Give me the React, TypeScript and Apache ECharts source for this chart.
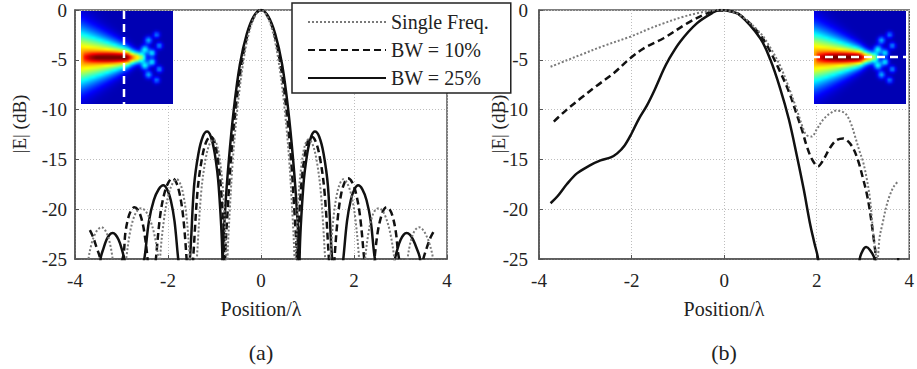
import React, { useEffect, useRef } from "react";
import * as echarts from "echarts";

// ---------- data ----------
const seriesNames = ["Single Freq.", "BW = 10%", "BW = 25%"];
const panelLabels = ["(a)", "(b)"];
const xTitle = "Position/λ";
const yTitle = "|E| (dB)";
const xMin = -4, xMax = 4, xStep = 2;
const yMin = -25, yMax = 0, yStep = 5;

// panel (a): [position, dB]
const singleA: number[][] = [
  [-3.74, -27],
  [-3.71, -25], [-3.64, -23.4], [-3.57, -22.5], [-3.5, -22.0], [-3.43, -21.8], [-3.37, -22.0], [-3.31, -22.5], [-3.25, -23.4], [-3.19, -25],
  [-3.05, -30],
  [-2.9, -25], [-2.82, -22.4], [-2.74, -20.9], [-2.66, -20.15], [-2.58, -19.9], [-2.49, -20.15], [-2.4, -20.9], [-2.3, -22.4], [-2.21, -25],
  [-2.19, -30],
  [-2.17, -25], [-2.08, -20.8], [-1.99, -18.55], [-1.9, -17.4], [-1.81, -17.0], [-1.74, -17.4], [-1.67, -18.55], [-1.6, -20.8], [-1.53, -25],
  [-1.46, -30],
  [-1.38, -25], [-1.29, -18.5], [-1.2, -15.2], [-1.11, -13.5], [-1.02, -13.0], [-0.95, -13.5], [-0.88, -15.2], [-0.81, -18.5], [-0.745, -25],
  [-0.73, -30],
  [-0.72, -25], [-0.67, -20], [-0.605, -15], [-0.51, -10], [-0.39, -5.5], [-0.265, -2.4], [-0.13, -0.6], [0, 0],
  [0.13, -0.6], [0.265, -2.4], [0.39, -5.5], [0.51, -10], [0.605, -15], [0.67, -20], [0.72, -25],
  [0.73, -30],
  [0.745, -25], [0.81, -18.5], [0.88, -15.2], [0.95, -13.5], [1.02, -13.0], [1.11, -13.5], [1.2, -15.2], [1.29, -18.5], [1.38, -25],
  [1.44, -30],
  [1.49, -25], [1.56, -20.8], [1.63, -18.55], [1.7, -17.4], [1.77, -17.0], [1.855, -17.4], [1.94, -18.55], [2.025, -20.8], [2.11, -25],
  [2.17, -30],
  [2.24, -25], [2.31, -22.4], [2.38, -20.9], [2.45, -20.15], [2.53, -19.9], [2.61, -20.15], [2.69, -20.9], [2.78, -22.4], [2.87, -25],
  [3.0, -30],
  [3.15, -25], [3.21, -23.4], [3.27, -22.5], [3.33, -22.0], [3.4, -21.8], [3.47, -22.0], [3.54, -22.5], [3.62, -23.4], [3.7, -25],
  [3.72, -27],
];

const bw10A: number[][] = [
  [-3.68, -22.1], [-3.61, -22.8], [-3.54, -23.8], [-3.46, -25], [-3.4, -30],
  [-2.98, -25], [-2.915, -22.3], [-2.85, -20.8], [-2.785, -20.05], [-2.72, -19.8], [-2.65, -20.05], [-2.58, -20.8], [-2.51, -22.3], [-2.44, -25],
  [-2.36, -30],
  [-2.26, -25], [-2.17, -20.7], [-2.08, -18.45], [-1.99, -17.3], [-1.9, -16.9], [-1.825, -17.3], [-1.75, -18.45], [-1.675, -20.7], [-1.6, -25],
  [-1.54, -30],
  [-1.46, -25], [-1.365, -18.2], [-1.27, -14.9], [-1.175, -13.2], [-1.08, -12.7], [-1.005, -13.2], [-0.93, -14.9], [-0.855, -18.2], [-0.78, -25],
  [-0.775, -30],
  [-0.77, -25], [-0.715, -20], [-0.645, -15], [-0.545, -10], [-0.42, -5.5], [-0.285, -2.4], [-0.14, -0.6], [0, 0],
  [0.14, -0.6], [0.285, -2.4], [0.42, -5.5], [0.545, -10], [0.645, -15], [0.715, -20], [0.77, -25],
  [0.775, -30],
  [0.78, -25], [0.855, -18.2], [0.93, -14.9], [1.005, -13.2], [1.08, -12.7], [1.175, -13.2], [1.27, -14.9], [1.365, -18.2], [1.46, -25],
  [1.52, -30],
  [1.58, -25], [1.655, -20.7], [1.725, -18.45], [1.8, -17.3], [1.87, -16.9], [1.96, -17.3], [2.045, -18.45], [2.13, -20.7], [2.22, -25],
  [2.33, -30],
  [2.44, -25], [2.51, -22.3], [2.58, -20.8], [2.64, -20.05], [2.7, -19.8], [2.77, -20.05], [2.835, -20.8], [2.9, -22.3], [2.97, -25],
  [3.23, -30],
  [3.49, -25], [3.57, -23.8], [3.65, -22.8], [3.73, -22.1],
];

const bw25A: number[][] = [
  [-3.47, -28],
  [-3.45, -25], [-3.385, -23.9], [-3.32, -23.05], [-3.255, -22.55], [-3.19, -22.4], [-3.13, -22.55], [-3.065, -23.05], [-3.0, -23.9], [-2.94, -25],
  [-2.72, -30],
  [-2.51, -25], [-2.41, -21.2], [-2.305, -19.1], [-2.2, -18.0], [-2.1, -17.6], [-2.02, -18.0], [-1.94, -19.1], [-1.86, -21.2], [-1.78, -25],
  [-1.65, -30],
  [-1.53, -25], [-1.44, -17.7], [-1.345, -14.4], [-1.25, -12.7], [-1.16, -12.2], [-1.08, -12.7], [-0.995, -14.4], [-0.91, -17.7], [-0.83, -25],
  [-0.825, -30],
  [-0.82, -25], [-0.77, -20], [-0.69, -15], [-0.585, -10], [-0.455, -5.5], [-0.305, -2.4], [-0.15, -0.6], [0, 0],
  [0.15, -0.6], [0.305, -2.4], [0.455, -5.5], [0.585, -10], [0.69, -15], [0.77, -20], [0.82, -25],
  [0.825, -30],
  [0.83, -25], [0.91, -17.7], [0.995, -14.4], [1.08, -12.7], [1.16, -12.2], [1.25, -12.7], [1.345, -14.4], [1.44, -17.7], [1.53, -25],
  [1.65, -30],
  [1.77, -25], [1.85, -21.2], [1.93, -19.1], [2.01, -18.0], [2.09, -17.6], [2.18, -18.0], [2.27, -19.1], [2.36, -21.2], [2.45, -25],
  [2.66, -30],
  [2.88, -25], [2.94, -23.9], [3.005, -23.05], [3.07, -22.55], [3.13, -22.4], [3.2, -22.55], [3.27, -23.05], [3.345, -23.9], [3.42, -25],
  [3.44, -28],
];

// panel (b)
const singleB: number[][] = [
  [-3.75, -5.7], [-3.4, -5.05], [-3.1, -4.5], [-2.6, -3.6], [-2.03, -2.68], [-1.6, -1.85], [-1.31, -1.34],
  [-0.9, -0.7], [-0.59, -0.33], [-0.3, -0.08], [-0.1, 0], [0.1, -0.1], [0.34, -0.5], [0.78, -2.3], [1.0, -3.8],
  [1.21, -5.6], [1.4, -7.8], [1.57, -10.0], [1.7, -11.8], [1.78, -12.55], [1.89, -12.7], [2.0, -12.0], [2.14, -11.0],
  [2.3, -10.35], [2.43, -10.1], [2.55, -10.2], [2.64, -10.5], [2.74, -11.4], [2.82, -12.55], [2.92, -14.1], [3.0, -15.2],
  [3.08, -16.9], [3.15, -18.9], [3.22, -22.3], [3.28, -24.6], [3.31, -25.0], [3.36, -22.8], [3.43, -21.3], [3.5, -19.8],
  [3.58, -18.6], [3.67, -17.7], [3.76, -17.2],
];

const bw10B: number[][] = [
  [-3.68, -11.2], [-3.4, -10.0], [-3.1, -8.87], [-2.75, -7.6], [-2.39, -6.36], [-2.03, -4.85], [-1.7, -3.75],
  [-1.31, -2.84], [-0.8, -1.34], [-0.37, -0.33], [-0.16, -0.05], [0, -0.05], [0.34, -0.5], [0.78, -2.5], [1.0, -4.2],
  [1.21, -6.2], [1.4, -8.2], [1.57, -10.5], [1.7, -12.3], [1.78, -13.6], [1.9, -15.0], [2.03, -15.7], [2.15, -15.0],
  [2.28, -13.9], [2.42, -13.1], [2.57, -12.9], [2.68, -13.2], [2.79, -13.9], [2.9, -15.2], [3.0, -16.9], [3.08, -18.4],
  [3.15, -20.2], [3.25, -23.6], [3.28, -25], [3.3, -28],
];

const bw25B: number[][] = [
  [-3.75, -19.4], [-3.6, -18.7], [-3.4, -17.5], [-3.18, -16.4], [-2.9, -15.6], [-2.67, -15.1], [-2.45, -14.8],
  [-2.31, -14.4], [-2.15, -13.6], [-2.0, -12.4], [-1.85, -11.0], [-1.67, -9.6], [-1.5, -8.0], [-1.31, -6.0],
  [-1.2, -5.0], [-0.95, -3.18], [-0.59, -1.34], [-0.23, -0.23], [-0.09, 0], [0.1, -0.1], [0.34, -0.5], [0.78, -2.84],
  [1.0, -5.0], [1.21, -7.86], [1.4, -11.0], [1.57, -14.6], [1.72, -18.0], [1.85, -21.3], [1.95, -23.4], [2.03, -25],
  [2.06, -28],
  [2.88, -28], [2.93, -25], [3.0, -24.1], [3.07, -23.8], [3.15, -24.1], [3.25, -25], [3.28, -28],
  [3.72, -27], [3.76, -24.9],
];

// ---------- inset picture (decoration) ----------
function jet(t: number): [number, number, number] {
  const c = (v: number) => Math.max(0, Math.min(1, v));
  return [c(1.5 - Math.abs(4 * t - 3)), c(1.5 - Math.abs(4 * t - 2)), c(1.5 - Math.abs(4 * t - 1))];
}
function makeInset(): string {
  const N = 40;
  const cv = document.createElement("canvas");
  cv.width = N;
  cv.height = N;
  const ctx = cv.getContext("2d");
  if (!ctx) return "";
  const img = ctx.createImageData(N, N);
  const blobs = [
    [0.66, 0.5, 0.3, 0.06], [0.7, 0.41, 0.3, 0.045], [0.7, 0.59, 0.3, 0.045],
    [0.78, 0.45, 0.3, 0.04], [0.78, 0.55, 0.3, 0.04], [0.74, 0.31, 0.25, 0.04],
    [0.74, 0.69, 0.25, 0.04], [0.83, 0.25, 0.2, 0.035], [0.83, 0.75, 0.2, 0.035],
    [0.86, 0.37, 0.22, 0.035], [0.86, 0.63, 0.22, 0.035],
  ];
  for (let j = 0; j < N; j++) {
    for (let i = 0; i < N; i++) {
      const u = i / (N - 1), v = j / (N - 1);
      let t = 0.05;
      const w = Math.max(0.03, 0.3 * (1 - u / 0.8));
      const A = 0.68 * (u < 0.5 ? 1 : Math.max(0, 1 - (u - 0.5) / 0.22));
      t += A * Math.exp(-Math.pow((v - 0.5) / w, 2));
      if (u < 0.64) {
        const env = Math.sqrt(Math.max(0, Math.sin((Math.PI * u) / 0.64)));
        t += 0.34 * env * Math.exp(-Math.pow((v - 0.5) / 0.055, 2));
      }
      for (const b of blobs) {
        const d2 = (Math.pow(u - b[0], 2) + Math.pow(v - b[1], 2)) / (b[3] * b[3]);
        t += b[2] * Math.exp(-d2);
      }
      t = Math.min(1, t);
      const [r, g, bb] = jet(t);
      const k = (j * N + i) * 4;
      img.data[k] = Math.round(r * 255);
      img.data[k + 1] = Math.round(g * 255);
      img.data[k + 2] = Math.round(bb * 255);
      img.data[k + 3] = 255;
    }
  }
  ctx.putImageData(img, 0, 0);
  const big = document.createElement("canvas");
  big.width = 92;
  big.height = 93;
  const bctx = big.getContext("2d");
  if (!bctx) return cv.toDataURL();
  bctx.imageSmoothingEnabled = true;
  bctx.imageSmoothingQuality = "high";
  bctx.drawImage(cv, 0, 0, 92, 93);
  return big.toDataURL();
}

const FONT = "Liberation Serif, Times New Roman, serif";

export default function App() {
  const ref = useRef<HTMLDivElement>(null);
  useEffect(() => {
    if (!ref.current) return;
    const chart = echarts.init(ref.current, null, { renderer: "svg" });
    const inset = makeInset();

    const grids = [
      { left: 75, top: 10, width: 372, height: 249 },
      { left: 539, top: 10, width: 371, height: 249 },
    ];
    const labelRich = { s: { fontFamily: FONT, fontSize: 19, color: "#222" } };
    const xAxis = [0, 1].map((g) => ({
      type: "value" as const,
      gridIndex: g,
      min: xMin,
      max: xMax,
      interval: xStep,
      axisLine: { show: true, onZero: false, lineStyle: { color: "#555", width: 1.5 } },
      axisTick: { show: true, inside: true, length: 4, lineStyle: { color: "#555" } },
      axisLabel: {
        color: "#222",
        fontFamily: FONT,
        fontSize: 19,
        margin: 12,
        formatter: (v: number) => `{s|${v}}`,
        rich: labelRich,
      },
      splitLine: { show: true, lineStyle: { color: "#bdbdbd", type: [1, 2], width: 1 } },
    }));
    const yAxis = [0, 1].map((g) => ({
      type: "value" as const,
      gridIndex: g,
      min: yMin,
      max: yMax,
      interval: yStep,
      axisLine: { show: true, onZero: false, lineStyle: { color: "#555", width: 1.5 } },
      axisTick: { show: true, inside: true, length: 4, lineStyle: { color: "#555" } },
      axisLabel: {
        color: "#222",
        fontFamily: FONT,
        fontSize: 19,
        margin: g === 0 ? 8 : 11,
        formatter: (v: number) => `{s|${v}}`,
        rich: labelRich,
      },
      splitLine: { show: true, lineStyle: { color: "#bdbdbd", type: [1, 2], width: 1 } },
    }));

    const styles = [
      { color: "#7a7a7a", width: 2, type: [2, 2] as number[] },
      { color: "#111", width: 2.5, type: [7, 4] as number[] },
      { color: "#111", width: 2.5, type: "solid" },
    ];
    const dataSets = [
      [singleA, bw10A, bw25A],
      [singleB, bw10B, bw25B],
    ];
    const series: any[] = [];
    dataSets.forEach((set, g) => {
      set.forEach((d, k) => {
        series.push({
          name: seriesNames[k],
          type: "line",
          xAxisIndex: g,
          yAxisIndex: g,
          data: d,
          showSymbol: false,
          symbol: "none",
          smooth: 0.35,
          clip: true,
          color: styles[k].color,
          lineStyle: { color: styles[k].color, width: styles[k].width, type: styles[k].type },
          z: 5 - k,
        });
      });
    });

    const insetEl = (x: number) => ({
      type: "image",
      x,
      y: 11,
      z: 10,
      style: { image: inset, width: 92, height: 93 },
    });
    const txt = (x: number, y: number, text: string, size: number, rot = 0) => ({
      type: "text",
      x,
      y,
      rotation: rot,
      z: 12,
      style: {
        text,
        fontFamily: FONT,
        fontSize: size,
        fill: "#222",
        textAlign: "center",
        textVerticalAlign: "middle",
        align: "center",
        verticalAlign: "middle",
      },
    });

    chart.setOption({
      animation: false,
      backgroundColor: "#fff",
      textStyle: { fontFamily: FONT },
      grid: grids.map((g) => ({ ...g, show: true, borderColor: "#555", borderWidth: 1.5, backgroundColor: "transparent" })),
      xAxis,
      yAxis,
      legend: {
        left: 292,
        top: 3,
        orient: "vertical",
        data: seriesNames,
        itemWidth: 78,
        itemHeight: 12,
        itemGap: 8,
        padding: [9, 22, 5, 15],
        borderColor: "#222",
        borderWidth: 1.5,
        borderRadius: 0,
        backgroundColor: "#fff",
        itemStyle: { opacity: 0 },
        textStyle: { fontFamily: FONT, fontSize: 20, color: "#222", lineHeight: 20 },
        z: 20,
      },
      series,
      graphic: [
        insetEl(81),
        insetEl(814),
        {
          type: "line",
          z: 11,
          shape: { x1: 124, y1: 11, x2: 124, y2: 104 },
          style: { stroke: "#fff", lineWidth: 2.5, lineDash: [8, 5] },
        },
        {
          type: "line",
          z: 11,
          shape: { x1: 812, y1: 57, x2: 907, y2: 57 },
          style: { stroke: "#fff", lineWidth: 2.5, lineDash: [8, 5] },
        },
        txt(261, 309, xTitle, 20),
        txt(724, 309, xTitle, 20),
        txt(261, 352, panelLabels[0], 22),
        txt(724, 352, panelLabels[1], 22),
        txt(19, 124, yTitle, 19, Math.PI / 2),
        txt(498, 124, yTitle, 19, Math.PI / 2),
      ],
    });
    return () => chart.dispose();
  }, []);
  return <div ref={ref} style={{ position: "fixed", left: 0, top: 0, width: 917, height: 369, background: "#fff" }} />;
}
